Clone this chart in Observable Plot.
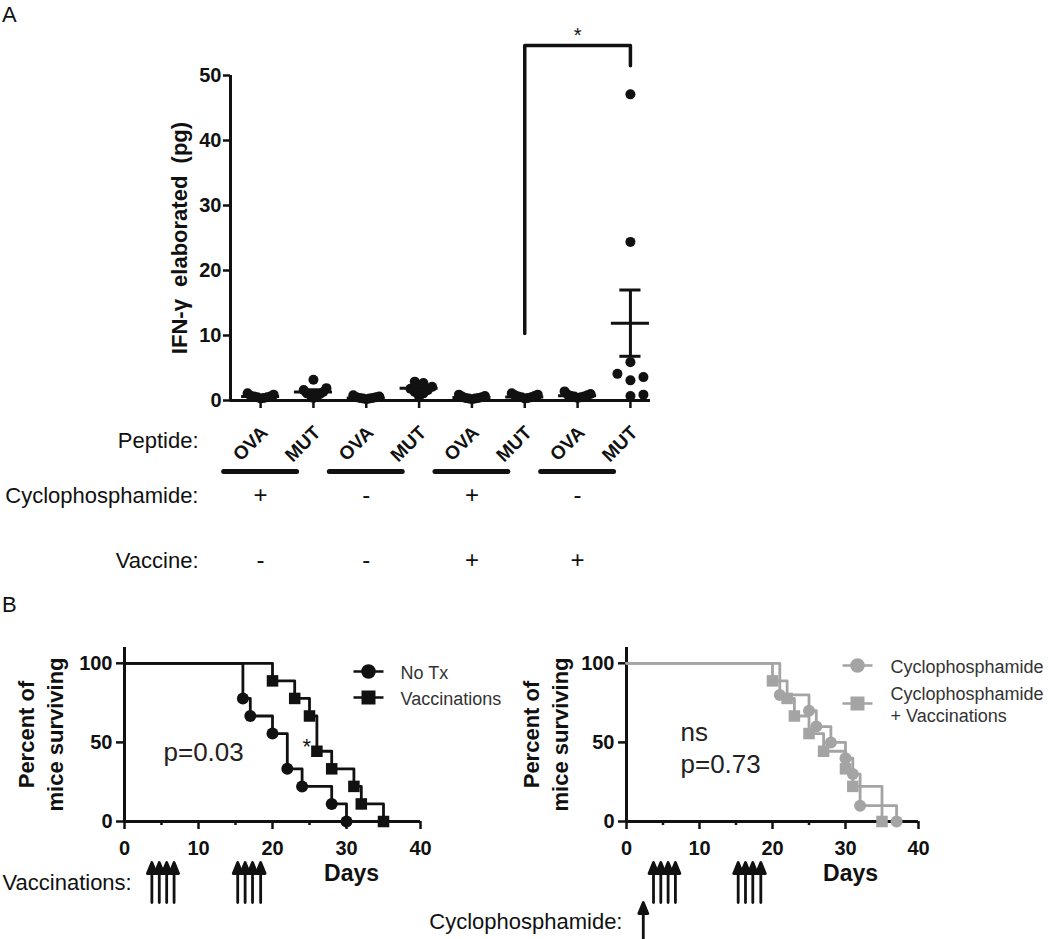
<!DOCTYPE html>
<html><head><meta charset="utf-8">
<script src="https://cdn.jsdelivr.net/npm/d3@7"></script>
<script src="https://cdn.jsdelivr.net/npm/@observablehq/plot@0.6"></script>
<style>
html,body{margin:0;padding:0;background:#fff;}
#fig{position:relative;width:1050px;height:939px;overflow:hidden;background:#fff;font-family:'Liberation Sans',Arial,Helvetica,sans-serif;color:#111;}
.pane{position:absolute;}
.letter{position:absolute;font-size:22px;line-height:1;}
</style></head><body>
<div id="fig">
  <div class="pane" id="panelA" style="left:0;top:0;width:680px;height:600px"></div>
  <div class="pane" id="panelBL" style="left:0;top:600px;width:520px;height:339px"></div>
  <div class="pane" id="panelBR" style="left:400px;top:600px;width:650px;height:339px"></div>
  <div class="letter" style="left:2px;top:4px">A</div>
  <div class="letter" style="left:2px;top:594px">B</div>
</div>
<script>
// ================= DATA: panel A (IFN-gamma, pg) =================
const peptides = ["OVA", "MUT", "OVA", "MUT", "OVA", "MUT", "OVA", "MUT"];
const ifnOvaCy     = [0.3, 0.4, 0.5, 0.5, 0.6, 0.6, 0.7, 0.9, 1.1];
const ifnMutCy     = [0.4, 0.6, 0.9, 1.0, 1.1, 1.3, 1.6, 1.9, 3.2];
const ifnOva       = [0.2, 0.3, 0.3, 0.4, 0.4, 0.5, 0.5, 0.6, 0.8];
const ifnMut       = [0.6, 1.1, 1.3, 1.6, 1.8, 2.1, 2.4, 2.7, 2.9];
const ifnOvaCyVac  = [0.2, 0.3, 0.3, 0.4, 0.4, 0.5, 0.6, 0.7, 0.9];
const ifnMutCyVac  = [0.3, 0.4, 0.5, 0.5, 0.6, 0.7, 0.8, 0.9, 1.1];
const ifnOvaVac    = [0.4, 0.5, 0.6, 0.6, 0.7, 0.8, 0.9, 1.0, 1.4];
const ifnMutVac    = [0.7, 0.9, 3.1, 3.6, 4.1, 5.9, 24.4, 47.1];
const ifnMean = [0.6, 1.3, 0.4, 1.9, 0.45, 0.55, 0.75, 11.9];
const ifnSem  = [0.08, 0.35, 0.06, 0.3, 0.07, 0.08, 0.1, 5.1];
const cycloRow   = ["+", "-", "+", "-"];
const vaccineRow = ["-", "-", "+", "+"];
const rowLabels  = ["Peptide:", "Cyclophosphamide:", "Vaccine:"];
const sigGroups = [6, 8];        // compared groups (1-based)
const sigTop = 54.6;             // bracket level (pg)
const sigEnds = [10.3, 51.5];    // bracket leg ends (pg)
const sigText = "*";
const yTicksA = [0, 10, 20, 30, 40, 50];
const yLabelA = "IFN-\u03b3\u00a0\u00a0elaborated\u00a0\u00a0(pg)";

// ================= DATA: panel B (Kaplan-Meier) =================
const noTxDays = [0, 16, 17, 20, 22, 24, 28, 30];
const noTxSurv = [100, 77.8, 66.7, 55.6, 33.3, 22.2, 11.1, 0];
const vacDays  = [0, 20, 23, 25, 26, 28, 31, 32, 35];
const vacSurv  = [100, 88.9, 77.8, 66.7, 44.4, 33.3, 22.2, 11.1, 0];
const cyDays   = [0, 21, 25, 26, 28, 30, 31, 32, 37];
const cySurv   = [100, 80, 70, 60, 50, 40, 30, 10, 0];
const cyVacDays = [0, 20, 22, 23, 25, 27, 30, 31, 35];
const cyVacSurv = [100, 88.9, 77.8, 66.7, 55.6, 44.4, 33.3, 22.2, 0];
const vaccinationDays = [3.7, 4.7, 5.7, 6.7, 15.3, 16.3, 17.3, 18.4];
const cyclophosphamideDays = [2.3];
const xTicksB = [0, 10, 20, 30, 40];
const xMinorB = [5, 15, 25, 35];
const yTicksB = [0, 50, 100];
const statLeft = "p=0.03";
const starLeft = "*";
const statRight = "ns\np=0.73";

// ================= helpers =================
const FONT = "'Liberation Sans', Arial, Helvetica, sans-serif";
const BLACK = "#111";
const GRAY = "#a4a4a4";
const plotStyle = {fontFamily: FONT, background: "none", overflow: "visible", color: BLACK};

// ---------------- Panel A ----------------
(function () {
  const W = 680, H = 600, mL = 230, mR = 30, mT = 75, mB = 200;
  const xDomain = [0.43, 8.38];
  const xPx = (W - mL - mR) / (xDomain[1] - xDomain[0]);
  const yPx = (H - mT - mB) / 50;
  const groups = [ifnOvaCy, ifnMutCy, ifnOva, ifnMut, ifnOvaCyVac, ifnMutCyVac, ifnOvaVac, ifnMutVac];

  // GraphPad-like scatter layout (horizontal spreading of overlapping points)
  const STEP = 13, MIN = 10, MAXW = 13;
  const points = [];
  groups.forEach((vals, gi) => {
    const placed = [];
    vals.slice().sort((a, b) => a - b).forEach(v => {
      for (let j = 0; ; j++) {
        const off = j === 0 ? 0 : (j % 2 ? 1 : -1) * Math.ceil(j / 2) * STEP;
        if (placed.every(q => Math.hypot(q.off - off, (q.v - v) * yPx) >= MIN)) { placed.push({v, off}); break; }
      }
    });
    const mx = d3.max(placed, q => Math.abs(q.off));
    const k = mx > MAXW ? MAXW / mx : 1;
    placed.forEach(q => points.push({g: gi + 1, v: q.v, x: gi + 1 + q.off * k / xPx}));
  });

  const cats = peptides.map((p, i) => ({i: i + 1, p, mean: ifnMean[i], sem: ifnSem[i]}));
  const treat = cycloRow.map((c, j) => ({x: 1 + 2 * j, c, v: vaccineRow[j]}));
  const bracket = [
    {x: sigGroups[0], y: sigEnds[0]}, {x: sigGroups[0], y: sigTop},
    {x: sigGroups[1], y: sigTop}, {x: sigGroups[1], y: sigEnds[1]}
  ];
  const rowDy = [40, 95, 160];

  const chart = Plot.plot({
    width: W, height: H, marginLeft: mL, marginRight: mR, marginTop: mT, marginBottom: mB,
    style: plotStyle,
    x: {domain: xDomain},
    y: {domain: [0, 50]},
    marks: [
      Plot.axisY({ticks: yTicksA, tickSize: 7, tickPadding: 2, fontSize: 20, fontWeight: "bold", strokeWidth: 2.5, label: null}),
      Plot.axisX({ticks: cats.map(d => d.i), tickSize: 8, tickFormat: () => "", strokeWidth: 2.5, label: null}),
      Plot.ruleX([xDomain[0]], {strokeWidth: 3}),
      Plot.ruleY([0], {strokeWidth: 3}),
      Plot.text([yLabelA], {frameAnchor: "left", textAnchor: "middle", lineAnchor: "middle", rotate: -90, dx: -51, fontSize: 22, fontWeight: "bold"}),
      Plot.dot(points, {x: "x", y: "v", r: 5, fill: BLACK, stroke: "none"}),
      Plot.ruleY(cats, {y: "mean", x1: d => d.i - 0.36, x2: d => d.i + 0.36, strokeWidth: 3}),
      Plot.ruleX(cats, {x: "i", y1: d => d.mean - d.sem, y2: d => d.mean + d.sem, strokeWidth: 3}),
      Plot.ruleY(cats, {y: d => d.mean + d.sem, x1: d => d.i - 0.2, x2: d => d.i + 0.2, strokeWidth: 3}),
      Plot.ruleY(cats, {y: d => d.mean - d.sem, x1: d => d.i - 0.2, x2: d => d.i + 0.2, strokeWidth: 3}),
      Plot.line(bracket, {x: "x", y: "y", strokeWidth: 3.5}),
      Plot.text([sigText], {x: (sigGroups[0] + sigGroups[1]) / 2, y: sigTop, dy: -10, fontSize: 20}),
      Plot.text(cats, {x: "i", text: "p", frameAnchor: "bottom", lineAnchor: "middle", rotate: -45, textAnchor: "end", dx: 4, dy: 29, fontSize: 19, fontWeight: "bold"}),
      ...rowLabels.map((t, r) => Plot.text([t], {frameAnchor: "bottom-left", textAnchor: "end", lineAnchor: "middle", dx: -32, dy: rowDy[r], fontSize: 22})),
      Plot.ruleY(treat, {y: 0, x1: d => d.x - 0.69, x2: d => d.x + 0.69, dy: 71, strokeWidth: 5, strokeLinecap: "round"}),
      Plot.text(treat, {x: "x", text: "c", frameAnchor: "bottom", lineAnchor: "middle", dy: 95, fontSize: 24}),
      Plot.text(treat, {x: "x", text: "v", frameAnchor: "bottom", lineAnchor: "middle", dy: 160, fontSize: 24})
    ]
  });
  document.getElementById("panelA").append(chart);
})();

// ---------------- Panel B ----------------
const legendSym = (kind) => ({
  draw(ctx, size) {
    const r = Math.sqrt(size / Math.PI);
    ctx.moveTo(-15, 0); ctx.lineTo(15, 0);
    if (kind === "circle") { ctx.moveTo(r, 0); ctx.arc(0, 0, r, 0, 2 * Math.PI); }
    else { const s = r * 1.75; ctx.rect(-s / 2, -s / 2, s, s); }
  }
});
const arrowUp = {
  draw(ctx, l) {
    ctx.moveTo(0, 0); ctx.lineTo(0, -l + 8);
    ctx.moveTo(0, -l); ctx.lineTo(4.5, -l + 11); ctx.lineTo(-4.5, -l + 11); ctx.closePath();
  }
};

function survival({W, mL, mR, series, legend, legendDx, legendDy, textDx, ylabDx, daysDx, stat, statDx, statDy, extra}) {
  const H = 339, mT = 47, mB = 118;
  const marks = [
    Plot.axisY({ticks: yTicksB, tickSize: 8, tickPadding: 4, fontSize: 20, fontWeight: "bold", strokeWidth: 2.5, label: null}),
    Plot.axisX({ticks: xTicksB, tickSize: 8, tickPadding: 11, fontSize: 20, fontWeight: "bold", strokeWidth: 2.5, label: null}),
    Plot.axisX({ticks: xMinorB, tickSize: 4, tickFormat: () => "", strokeWidth: 2.5, label: null}),
    Plot.ruleX([0], {strokeWidth: 3}),
    Plot.ruleY([0], {strokeWidth: 3}),
    Plot.text(["Percent of\nmice surviving"], {frameAnchor: "left", textAnchor: "middle", lineAnchor: "middle", rotate: -90, dx: ylabDx, lineHeight: 1.32, fontSize: 22, fontWeight: "bold"}),
    Plot.text(["Days"], {frameAnchor: "bottom", lineAnchor: "middle", dx: daysDx, dy: 52, fontSize: 23, fontWeight: "bold"})
  ];
  series.forEach(s => {
    const data = s.days.map((d, i) => ({day: d, surv: s.surv[i]}));
    marks.push(Plot.line(data, {x: "day", y: "surv", curve: "step-after", stroke: s.color, strokeWidth: 2.8}));
    marks.push(Plot.dot(data.slice(1), {x: "day", y: "surv", symbol: s.symbol, r: s.symbol === "square" ? 6.5 : 6, fill: s.color, stroke: "none"}));
  });
  legend.forEach((e, i) => {
    marks.push(Plot.dot([e], {frameAnchor: "top-left", dx: legendDx, dy: legendDy[i], symbol: legendSym(e.symbol), r: e.symbol === "square" ? 6.5 : 6, fill: e.color, stroke: e.color, strokeWidth: 2.6}));
    marks.push(Plot.text([e.label], {frameAnchor: "top-left", textAnchor: "start", lineAnchor: "middle", dx: textDx, dy: legendDy[i], fontSize: 18, lineHeight: 1.22, fill: "#333"}));
  });
  marks.push(Plot.text([stat], {frameAnchor: "top-left", textAnchor: "start", lineAnchor: "middle", dx: statDx, dy: statDy, fontSize: 26, lineHeight: 1.23, fill: "#222"}));
  marks.push(Plot.vector(vaccinationDays, {x: d => d, frameAnchor: "bottom", dy: 81, length: 40, anchor: "start", shape: arrowUp, stroke: BLACK, fill: BLACK, strokeWidth: 2.8}));
  marks.push(...extra);
  return Plot.plot({
    width: W, height: H, marginLeft: mL, marginRight: mR, marginTop: mT, marginBottom: mB,
    style: plotStyle,
    x: {domain: [0, 40]},
    y: {domain: [0, 110]},
    marks
  });
}

document.getElementById("panelBL").append(survival({
  W: 520, mL: 124, mR: 100,
  series: [
    {days: noTxDays, surv: noTxSurv, symbol: "circle", color: BLACK},
    {days: vacDays, surv: vacSurv, symbol: "square", color: BLACK}
  ],
  legend: [{label: "No Tx", symbol: "circle", color: BLACK}, {label: "Vaccinations", symbol: "square", color: BLACK}],
  legendDx: 244, legendDy: [24, 50], textDx: 276, ylabDx: -85, daysDx: 79,
  stat: statLeft, statDx: 39, statDy: 103,
  extra: [
    Plot.text([starLeft], {frameAnchor: "top-left", lineAnchor: "middle", dx: 178, dy: 99, fontSize: 22}),
    Plot.text(["Vaccinations:"], {frameAnchor: "bottom-left", textAnchor: "start", lineAnchor: "middle", dx: -122, dy: 61, fontSize: 22})
  ]
}));

document.getElementById("panelBR").append(survival({
  W: 650, mL: 226, mR: 132,
  series: [
    {days: cyDays, surv: cySurv, symbol: "circle", color: GRAY},
    {days: cyVacDays, surv: cyVacSurv, symbol: "square", color: GRAY}
  ],
  legend: [{label: "Cyclophosphamide", symbol: "circle", color: GRAY}, {label: "Cyclophosphamide\n+ Vaccinations", symbol: "square", color: GRAY}],
  legendDx: 231, legendDy: [18, 56], textDx: 264, ylabDx: -82, daysDx: 78,
  stat: statRight, statDx: 54, statDy: 99,
  extra: [
    Plot.vector(cyclophosphamideDays, {x: d => d, frameAnchor: "bottom", dy: 125, length: 44, anchor: "start", shape: arrowUp, stroke: BLACK, fill: BLACK, strokeWidth: 2.8}),
    Plot.text(["Cyclophosphamide:"], {frameAnchor: "bottom-left", textAnchor: "end", lineAnchor: "middle", dx: -4, dy: 100, fontSize: 22})
  ]
}));
</script>
</body></html>
